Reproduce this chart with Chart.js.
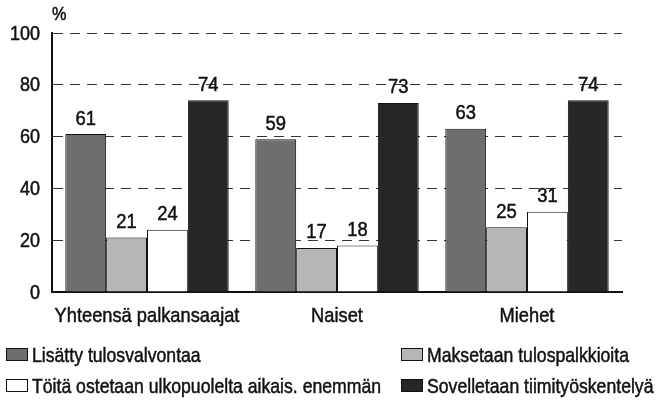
<!DOCTYPE html>
<html>
<head>
  <meta charset="utf-8">
  <title>Tulosvalvonta ja tiimityö</title>
  <script src="https://cdn.jsdelivr.net/npm/chart.js"></script>
  <style>
    html, body { margin: 0; padding: 0; background: #fff; }
    .wrap { width: 668px; height: 405px; position: relative; }
  </style>
</head>
<body>
  <div class="wrap"><canvas id="chart"></canvas></div>
  <script>
    // data
    const categories = ['Yhteensä palkansaajat', 'Naiset', 'Miehet'];
    const seriesNames = [
      'Lisätty tulosvalvontaa',
      'Maksetaan tulospalkkioita',
      'Töitä ostetaan ulkopuolelta aikais. enemmän',
      'Sovelletaan tiimityöskentelyä'
    ];
    const tulosvalvonta = [61, 59, 63];
    const tulospalkkiot = [21, 17, 25];
    const ostetaan = [24, 18, 31];
    const tiimityo = [74, 73, 74];
    const yTicks = [0, 20, 40, 60, 80, 100];

    const FONT = '"Liberation Sans", Arial, sans-serif';
    const colors = ['#6e6e6e', '#b6b6b6', '#ffffff', '#272727'];
    const values = [tulosvalvonta, tulospalkkiot, ostetaan, tiimityo];

    // the original uses a narrow grotesque, so text is squeezed horizontally
    function narrowText(ctx, text, x, y, size, sx, align, baseline) {
      ctx.save();
      ctx.font = size + 'px ' + FONT;
      ctx.textAlign = align;
      ctx.textBaseline = baseline;
      ctx.translate(x, y);
      ctx.scale(sx, 1);
      ctx.strokeStyle = '#111';
      ctx.lineWidth = 0.5;
      ctx.fillText(text, 0, 0);
      ctx.strokeText(text, 0, 0);
      ctx.restore();
    }

    const extras = {
      id: 'extras',
      afterDraw(chart) {
        const ctx = chart.ctx;
        const xs = chart.scales.x, ys = chart.scales.y;
        ctx.save();
        ctx.fillStyle = '#111';
        // y tick labels
        yTicks.forEach(v => {
          narrowText(ctx, String(v), 40, ys.getPixelForValue(v) + 1, 20, 0.9, 'right', 'middle');
        });
        // category labels
        categories.forEach((c, i) => {
          narrowText(ctx, c, xs.getPixelForValue(i), 316, 21, 0.87, 'center', 'middle');
        });
        // value labels
        chart.data.datasets.forEach((ds, i) => {
          chart.getDatasetMeta(i).data.forEach((bar, j) => {
            narrowText(ctx, String(ds.data[j]), bar.x, bar.y - 5, 20, 0.92, 'center', 'bottom');
          });
        });
        // % above the y axis
        narrowText(ctx, '%', chart.chartArea.left, 15, 18, 0.9, 'left', 'middle');
        // legend in two columns
        const pos = [[6, 355], [401, 355], [6, 386], [401, 386]];
        chart.data.datasets.forEach((ds, i) => {
          const [x, y] = pos[i];
          ctx.fillStyle = ds.backgroundColor;
          ctx.fillRect(x, y - 7, 22, 13);
          ctx.strokeStyle = '#111';
          ctx.lineWidth = 1;
          ctx.strokeRect(x + 0.5, y - 6.5, 21, 12);
          ctx.fillStyle = '#111';
          narrowText(ctx, ds.label, x + 26, y + 1, 21, 0.84, 'left', 'middle');
        });
        ctx.restore();
      }
    };

    new Chart(document.getElementById('chart'), {
      type: 'bar',
      data: {
        labels: categories,
        datasets: seriesNames.map((name, i) => ({
          label: name,
          data: values[i],
          backgroundColor: colors[i],
          borderColor: '#111',
          borderWidth: 1,
          categoryPercentage: 0.86,
          barPercentage: 1
        }))
      },
      options: {
        responsive: true,
        maintainAspectRatio: false,
        animation: false,
        layout: { padding: { top: 33, right: 46, bottom: 0, left: 0 } },
        plugins: { legend: { display: false }, tooltip: { enabled: false } },
        scales: {
          x: {
            grid: { display: false, drawTicks: false },
            border: { color: '#111', width: 2 },
            ticks: { display: false },
            afterFit(scale) { scale.height = 113; scale.paddingLeft = 0; scale.paddingRight = 0; }
          },
          y: {
            min: 0,
            max: 100,
            afterBuildTicks(scale) { scale.ticks = yTicks.map(v => ({ value: v })); },
            grid: {
              color: ctx => ctx.tick.value === 0 ? 'rgba(0,0,0,0)' : '#333',
              lineWidth: 1,
              drawTicks: false
            },
            border: { color: '#111', width: 2, dash: [10, 7] },
            ticks: { display: false },
            afterFit(scale) { scale.width = 52; }
          }
        }
      },
      plugins: [extras]
    });
  </script>
</body>
</html>
